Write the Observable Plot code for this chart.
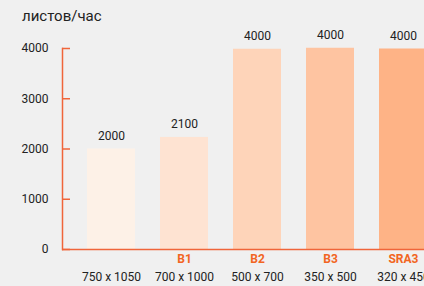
<!DOCTYPE html>
<html>
<head>
<meta charset="utf-8">
<script src="https://cdn.jsdelivr.net/npm/d3@7"></script>
<script src="https://cdn.jsdelivr.net/npm/@observablehq/plot@0.6"></script>
<style>
  html, body { margin: 0; padding: 0; background: #f0f0f0; overflow: hidden; }
  #wrap { position: relative; width: 424px; height: 286px; overflow: hidden; }
  #unit { position: absolute; left: 22px; top: 7px; font: 15px Roboto, sans-serif; color: #222; }
  #chart { position: absolute; left: 0; top: 0; }
</style>
</head>
<body>
<div id="wrap">
  <div id="chart"></div>
  <div id="unit">листов/час</div>
</div>
<script>
const categories = ["c0", "c1", "c2", "c3", "c4"];
const formats = ["", "B1", "B2", "B3", "SRA3"];
const sizes = ["750 x 1050", "700 x 1000", "500 x 700", "350 x 500", "320 x 450"];
const values = [2000, 2230, 3985, 4005, 3990];
const valueLabels = ["2000", "2100", "4000", "4000", "4000"];
const colors = ["#fdf1e7", "#fee3d2", "#fed4b9", "#fec4a1", "#feb386"];
const yTicks = [0, 1000, 2000, 3000, 4000];

const data = categories.map((c, i) => ({cat: c, fmt: formats[i], size: sizes[i], value: values[i], label: valueLabels[i], color: colors[i]}));
const orange = "#f0653a";

const chart = Plot.plot({
  width: 424,
  height: 286,
  marginLeft: 62,
  marginRight: 0,
  marginTop: 48,
  marginBottom: 37,
  style: {background: "transparent", fontFamily: "Roboto, sans-serif", fontSize: "12px", color: "#222"},
  x: {domain: categories, range: [62, 452], paddingInner: 0.336, paddingOuter: 0.327, axis: null},
  y: {domain: [0, 4000], axis: null},
  marks: [
    Plot.barY(data, {x: "cat", y: "value", fill: "color"}),
    Plot.axisY({ticks: yTicks, tickFormat: d => String(d), tickSize: 8, dx: 8, tickPadding: 14, stroke: orange, color: "#222", fontSize: 12, strokeWidth: 1.5, label: null}),
    Plot.frame({anchor: "left", stroke: orange, strokeWidth: 1.5}),
    Plot.ruleY([0], {stroke: orange, strokeWidth: 1.5}),
    Plot.text(data, {x: "cat", y: "value", text: "label", dy: -13, fill: "#222", fontSize: 12}),
    Plot.text(data, {x: "cat", text: "fmt", frameAnchor: "bottom", dy: 13, fill: "#f26522", fontWeight: "bold", fontSize: 12}),
    Plot.text(data, {x: "cat", text: "size", frameAnchor: "bottom", dy: 31, fill: "#222", fontSize: 12})
  ]
});
document.getElementById("chart").appendChild(chart);
</script>
</body>
</html>
